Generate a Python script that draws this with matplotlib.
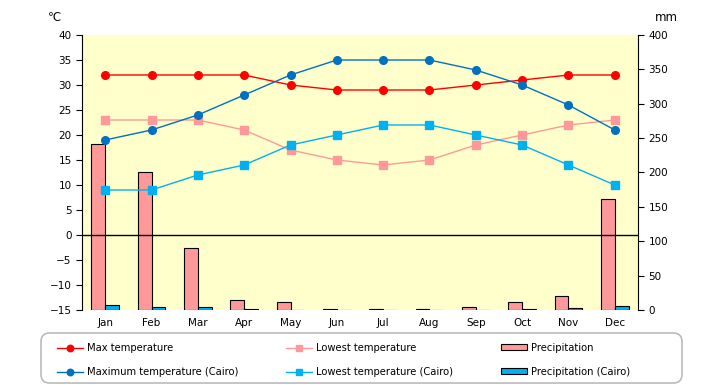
import numpy as np
import matplotlib
matplotlib.use("Agg")
import matplotlib.pyplot as plt
from matplotlib.patches import FancyBboxPatch

months = ["Jan", "Feb", "Mar", "Apr", "May", "Jun", "Jul", "Aug", "Sep", "Oct", "Nov", "Dec"]
max_temp = [32, 32, 32, 32, 30, 29, 29, 29, 30, 31, 32, 32]
low_temp = [23, 23, 23, 21, 17, 15, 14, 15, 18, 20, 22, 23]
precip = [242, 200, 90, 14, 11, 1, 1, 1, 4, 11, 21, 162]
max_cairo = [19, 21, 24, 28, 32, 35, 35, 35, 33, 30, 26, 21]
low_cairo = [9, 9, 12, 14, 18, 20, 22, 22, 20, 18, 14, 10]
precip_cairo = [7, 4, 4, 1, 0, 0, 0, 0, 0, 1, 3, 6]

plt.rcParams["font.family"] = ["DejaVu Sans"]
fs = 7.5

fig = plt.figure(figsize=(7.2, 3.85), dpi=100)
ax2 = fig.add_axes([0.1139, 0.1948, 0.7722, 0.7143])
ax = ax2.twinx()
# temperature axis on the left, precipitation on the right
ax.yaxis.tick_left()
ax2.yaxis.tick_right()
ax.set_zorder(ax2.get_zorder() + 1)
ax.patch.set_visible(False)
ax2.set_facecolor("#FFFFCC")

x = np.arange(len(months))
w = 0.3
b1 = ax2.bar(x - w / 2, precip, w, color="#FF9999", edgecolor="black", linewidth=0.8,
             label="Precipitation")
b2 = ax2.bar(x + w / 2, precip_cairo, w, color="#00B0F0", edgecolor="black", linewidth=0.8,
             label="Precipitation (Cairo)")
ax2.set_ylim(0, 400)
ax2.set_yticks(range(0, 401, 50))

ms = 5.5
l1, = ax.plot(x, max_temp, color="#FF0000", marker="o", ms=ms, lw=1, label="Max temperature")
l2, = ax.plot(x, low_temp, color="#FF9999", marker="s", ms=ms, lw=1, label="Lowest temperature")
l3, = ax.plot(x, max_cairo, color="#0070C0", marker="o", ms=ms, lw=1,
              label="Maximum temperature (Cairo)")
l4, = ax.plot(x, low_cairo, color="#00B0F0", marker="s", ms=ms, lw=1,
              label="Lowest temperature (Cairo)")
ax.axhline(0, color="black", lw=1)
ax.set_ylim(-15, 40)
ax.set_yticks(range(-15, 41, 5))
ax.set_xlim(-0.5, 11.5)
ax.set_xticks(x)
ax.set_xticklabels(months)

for a in (ax, ax2):
    a.spines["top"].set_visible(False)
    a.spines["bottom"].set_visible(False)
    a.tick_params(axis="x", length=0, labelsize=fs, pad=6)
    a.tick_params(axis="y", labelsize=fs, direction="out", length=4)
ax2.spines["left"].set_visible(False)
ax2.spines["right"].set_visible(False)

fig.text(0.076, 0.955, "℃", fontsize=fs + 1, ha="center", va="center")
fig.text(0.925, 0.955, "mm", fontsize=fs + 1, ha="center", va="center")

# rounded legend frame
frame = FancyBboxPatch((41 / 720, 2 / 385), 641 / 720, 50 / 385,
                       boxstyle="round,pad=0,rounding_size=0.012",
                       transform=fig.transFigure, facecolor="white",
                       edgecolor="#BBBBBB", linewidth=1.2, mutation_aspect=720 / 385)
fig.add_artist(frame)

handles = [l1, l3, l2, l4, b1, b2]
leg = fig.legend(handles=handles, labels=[h.get_label() for h in handles], ncol=3,
                 loc="upper left", bbox_to_anchor=(0.0722, 0.1225), fontsize=7.2,
                 frameon=False, handlelength=2.6, handleheight=0.5,
                 handletextpad=0.4, columnspacing=4.8, labelspacing=1.4,
                 borderpad=0.0, markerscale=0.85)

fig.savefig("out.png", dpi=100)
